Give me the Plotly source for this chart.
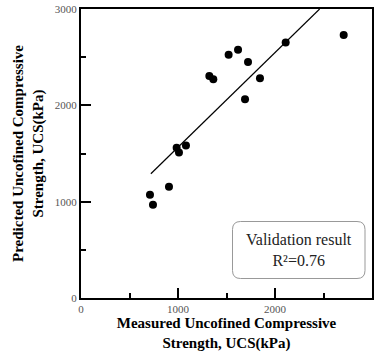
import plotly.graph_objects as go

measured = [711, 742, 907, 986, 1010, 1082, 1323, 1364, 1522, 1619, 1722, 1845, 1691, 2110, 2708]
predicted = [1071, 967, 1154, 1559, 1510, 1583, 2304, 2270, 2526, 2578, 2450, 2280, 2062, 2651, 2731]
fit_x = [720, 2460]
fit_y = [1290, 3000]

serif = "Liberation Serif, Times New Roman, serif"

fig = go.Figure()
fig.add_trace(go.Scatter(x=fit_x, y=fit_y, mode="lines",
                         line=dict(color="black", width=1.2), showlegend=False, hoverinfo="skip"))
fig.add_trace(go.Scatter(x=measured, y=predicted, mode="markers",
                         marker=dict(color="black", size=8), showlegend=False))

def rounded_rect(x0, y0, x1, y1, rx, ry):
    return (f"M {x0+rx},{y0} L {x1-rx},{y0} Q {x1},{y0} {x1},{y0+ry} "
            f"L {x1},{y1-ry} Q {x1},{y1} {x1-rx},{y1} L {x0+rx},{y1} "
            f"Q {x0},{y1} {x0},{y1-ry} L {x0},{y0+ry} Q {x0},{y0} {x0+rx},{y0} Z")

W, H = 291.0, 289.0
bx0, bx1 = (232.5 - 81) / W, (365 - 81) / W
by0, by1 = (298 - 278.5) / H, (298 - 221.5) / H
fig.add_shape(type="path", xref="paper", yref="paper",
              path=rounded_rect(bx0, by0, bx1, by1, 8 / W, 8 / H),
              line=dict(color="#999999", width=1), fillcolor="white", layer="above")
fig.add_annotation(xref="paper", yref="paper", x=(bx0 + bx1) / 2, y=(by0 + by1) / 2,
                   xanchor="center", yanchor="middle",
                   text="Validation result<br>R²=0.76", showarrow=False,
                   font=dict(family=serif, size=16, color="#222222"), align="center")

axis_common = dict(range=[0, 3000], tickmode="linear", tick0=0, dtick=1000,
                   ticks="inside", ticklen=10, tickwidth=1.5, tickcolor="#000000",
                   minor=dict(ticks="inside", dtick=500, tick0=0, ticklen=5,
                              tickwidth=1.5, tickcolor="#000000", showgrid=False),
                   showline=True, linecolor="#000000", linewidth=2, mirror=True,
                   showgrid=False, zeroline=False, automargin=False,
                   tickfont=dict(family=serif, size=11, color="#555555"))

fig.update_layout(
    xaxis=dict(**axis_common,
               title=dict(text="<b>Measured Uncofined Compressive<br>Strength, UCS(kPa)</b>",
                          font=dict(family=serif, size=15, color="black"), standoff=3)),
    yaxis=dict(**axis_common,
               title=dict(text="<b>Predicted Uncofined Compressive<br>Strength, UCS(kPa)</b>",
                          font=dict(family=serif, size=15, color="black"), standoff=8)),
    width=383, height=356, margin=dict(l=81, r=11, t=9, b=58),
    plot_bgcolor="white", paper_bgcolor="white")
fig.write_html("out.html", config={"displayModeBar": False},
               post_script="document.body.style.margin='0';")
